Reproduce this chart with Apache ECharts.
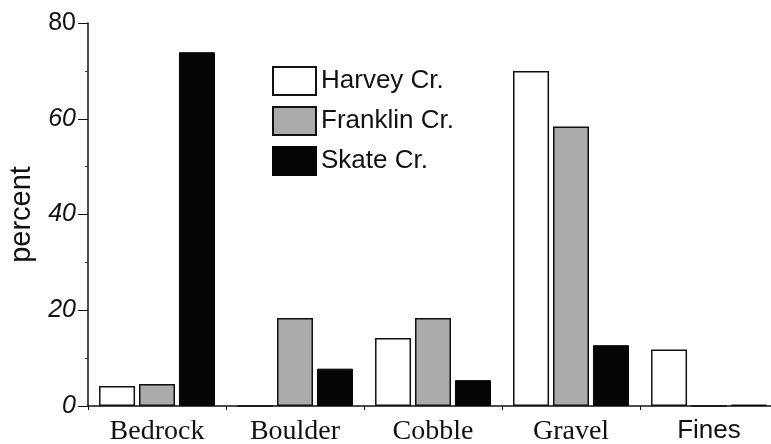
<!DOCTYPE html>
<html>
<head>
<meta charset="utf-8">
<script src="https://cdn.jsdelivr.net/npm/echarts@6/dist/echarts.min.js"></script>
<style>
  html, body { margin: 0; padding: 0; background: #fff; }
  #main { width: 771px; height: 444px; }
</style>
</head>
<body>
<div id="main"></div>
<script>
// substrate classes
const categories = ['Bedrock', 'Boulder', 'Cobble', 'Gravel', 'Fines'];
const harvey = [4.2, 0, 14.2, 70, 11.8];
const franklin = [4.6, 18.4, 18.4, 58.4, 0];
const skate = [73.9, 7.8, 5.4, 12.7, 0.3];
const seriesNames = ['Harvey Cr.', 'Franklin Cr.', 'Skate Cr.'];

const myChart = echarts.init(document.getElementById('main'));

myChart.setOption({
    animation: false,
    grid: { left: 88, right: -7, top: 23, bottom: 38, outerBoundsMode: 'none' },
    legend: {
        orient: 'vertical',
        left: 267,
        top: 61,
        icon: 'rect',
        itemWidth: 43,
        itemHeight: 28,
        itemGap: 10,
        data: seriesNames,
        textStyle: { fontFamily: 'Liberation Sans', fontSize: 26, color: '#111' }
    },
    xAxis: {
        type: 'category',
        data: categories,
        axisLine: { lineStyle: { color: '#111', width: 1.5 } },
        axisTick: { show: true, length: 4, lineStyle: { color: '#111' } },
        axisLabel: {
            margin: 12,
            fontFamily: 'Liberation Serif',
            fontSize: 28,
            color: '#111',
            formatter: (v) => v === 'Fines' ? '{s|' + v + '}' : v,
            rich: { s: { fontFamily: 'Liberation Sans', fontSize: 26, color: '#111' } }
        }
    },
    yAxis: {
        type: 'value',
        min: 0,
        max: 80,
        interval: 20,
        name: 'percent',
        nameLocation: 'middle',
        nameGap: 52,
        nameTextStyle: { fontFamily: 'Liberation Sans', fontSize: 29, color: '#111' },
        axisLine: { show: true, lineStyle: { color: '#111', width: 1.5 } },
        axisTick: { show: true, length: 10, lineStyle: { color: '#111' } },
        minorTick: { show: true, splitNumber: 2, length: 3, lineStyle: { color: '#333' } },
        splitLine: { show: false },
        axisLabel: {
            margin: 12,
            fontFamily: 'Liberation Sans',
            fontSize: 25,
            color: '#111',
            formatter: (v) => v === 80 ? '{u|80}' : '{i|' + v + '}',
            rich: {
                u: { fontFamily: 'Liberation Sans', fontSize: 25, color: '#111' },
                i: { fontFamily: 'Liberation Sans', fontSize: 25, fontStyle: 'italic', color: '#111' }
            }
        }
    },
    series: [
        {
            name: seriesNames[0],
            type: 'bar',
            data: harvey,
            barWidth: 36,
            barGap: '11%',
            itemStyle: { color: '#fff', borderColor: '#111', borderWidth: 1.5 }
        },
        {
            name: seriesNames[1],
            type: 'bar',
            data: franklin,
            barWidth: 36,
            barGap: '11%',
            itemStyle: { color: '#ababab', borderColor: '#111', borderWidth: 1.5 }
        },
        {
            name: seriesNames[2],
            type: 'bar',
            data: skate,
            barWidth: 36,
            barGap: '11%',
            itemStyle: { color: '#050505', borderColor: '#050505', borderWidth: 1 }
        }
    ]
});
</script>
</body>
</html>
